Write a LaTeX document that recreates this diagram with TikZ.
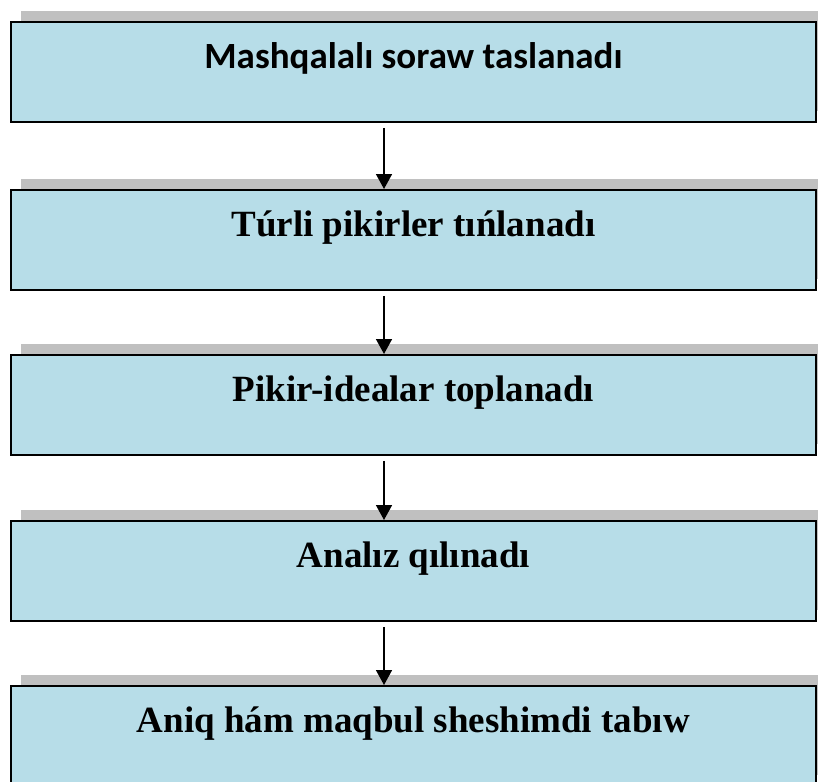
\documentclass[tikz,border=0pt]{standalone}
\usepackage{fontspec}
\setmainfont{Liberation Serif}
\newfontfamily\headfont{Carlito}
\usetikzlibrary{arrows.meta,shadows}
\definecolor{boxfill}{HTML}{B7DDE8}
\definecolor{shadowgray}{HTML}{C0C0C0}
\tikzset{
  stepbox/.style={draw=black, line width=1.8pt, fill=boxfill,
    minimum width=805pt, inner xsep=0pt, inner ysep=0pt,
    text height=47pt, text depth=53pt, anchor=north west,
    font=\bfseries\fontsize{37}{44}\selectfont,
    general shadow={fill=shadowgray, shadow xshift=10pt, shadow yshift=11pt}},
  flow/.style={line width=1.6pt, -{Triangle[length=15pt,width=16pt]}, shorten <=5pt}
}
\begin{document}
\begin{tikzpicture}[x=1pt,y=-1pt]
  \useasboundingbox (0,0) rectangle (818,781);
  \coordinate (ax) at (384,0);
  \node[stepbox, font=\headfont\bfseries\fontsize{37}{44}\selectfont] (s1) at (10,21) {Mashqalalı soraw taslanadı};
  \node[stepbox] (s2) at (10,189) {Túrli pikirler tıńlanadı};
  \node[stepbox] (s3) at (10,354) {Pikir-idealar toplanadı};
  \node[stepbox] (s4) at (10,520) {Analız qılınadı};
  \node[stepbox] (s5) at (10,685) {Aniq hám maqbul sheshimdi tabıw};
  \draw[flow] (s1.south -| ax) -- (s2.north -| ax);
  \draw[flow] (s2.south -| ax) -- (s3.north -| ax);
  \draw[flow] (s3.south -| ax) -- (s4.north -| ax);
  \draw[flow] (s4.south -| ax) -- (s5.north -| ax);
\end{tikzpicture}
\end{document}
